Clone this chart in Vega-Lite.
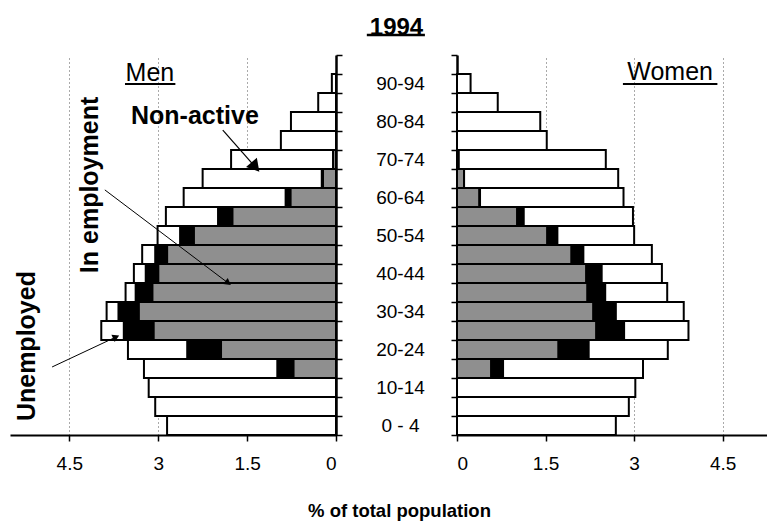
{
  "$schema": "https://vega.github.io/schema/vega-lite/v6.json",
  "background": "white",
  "padding": {"left": 10, "top": 15, "right": 0, "bottom": 2},
  "title": {"text": "1994", "font": "Liberation Sans", "fontSize": 24, "fontWeight": "bold", "color": "black", "anchor": "middle", "dx": 8, "offset": -6},
  "config": {"view": {"stroke": null}, "font": "Liberation Sans"},
  "spacing": 121,
  "bounds": "flush",
  "datasets": {
    "pop": [
      {"sex": "Men", "age": "90-94", "status": "Non-active", "value": 0.07, "ord": 3},
      {"sex": "Men", "age": "85-89", "status": "Non-active", "value": 0.30, "ord": 3},
      {"sex": "Men", "age": "80-84", "status": "Non-active", "value": 0.76, "ord": 3},
      {"sex": "Men", "age": "75-79", "status": "Non-active", "value": 0.93, "ord": 3},
      {"sex": "Men", "age": "70-74", "status": "In employment", "value": 0.05, "ord": 1},
      {"sex": "Men", "age": "70-74", "status": "Non-active", "value": 1.72, "ord": 3},
      {"sex": "Men", "age": "65-69", "status": "In employment", "value": 0.22, "ord": 1},
      {"sex": "Men", "age": "65-69", "status": "Unemployed", "value": 0.02, "ord": 2},
      {"sex": "Men", "age": "65-69", "status": "Non-active", "value": 2.01, "ord": 3},
      {"sex": "Men", "age": "60-64", "status": "In employment", "value": 0.77, "ord": 1},
      {"sex": "Men", "age": "60-64", "status": "Unemployed", "value": 0.08, "ord": 2},
      {"sex": "Men", "age": "60-64", "status": "Non-active", "value": 1.72, "ord": 3},
      {"sex": "Men", "age": "55-59", "status": "In employment", "value": 1.75, "ord": 1},
      {"sex": "Men", "age": "55-59", "status": "Unemployed", "value": 0.24, "ord": 2},
      {"sex": "Men", "age": "55-59", "status": "Non-active", "value": 0.88, "ord": 3},
      {"sex": "Men", "age": "50-54", "status": "In employment", "value": 2.40, "ord": 1},
      {"sex": "Men", "age": "50-54", "status": "Unemployed", "value": 0.23, "ord": 2},
      {"sex": "Men", "age": "50-54", "status": "Non-active", "value": 0.38, "ord": 3},
      {"sex": "Men", "age": "45-49", "status": "In employment", "value": 2.85, "ord": 1},
      {"sex": "Men", "age": "45-49", "status": "Unemployed", "value": 0.20, "ord": 2},
      {"sex": "Men", "age": "45-49", "status": "Non-active", "value": 0.22, "ord": 3},
      {"sex": "Men", "age": "40-44", "status": "In employment", "value": 3.00, "ord": 1},
      {"sex": "Men", "age": "40-44", "status": "Unemployed", "value": 0.21, "ord": 2},
      {"sex": "Men", "age": "40-44", "status": "Non-active", "value": 0.20, "ord": 3},
      {"sex": "Men", "age": "35-39", "status": "In employment", "value": 3.10, "ord": 1},
      {"sex": "Men", "age": "35-39", "status": "Unemployed", "value": 0.28, "ord": 2},
      {"sex": "Men", "age": "35-39", "status": "Non-active", "value": 0.17, "ord": 3},
      {"sex": "Men", "age": "30-34", "status": "In employment", "value": 3.33, "ord": 1},
      {"sex": "Men", "age": "30-34", "status": "Unemployed", "value": 0.34, "ord": 2},
      {"sex": "Men", "age": "30-34", "status": "Non-active", "value": 0.20, "ord": 3},
      {"sex": "Men", "age": "25-29", "status": "In employment", "value": 3.08, "ord": 1},
      {"sex": "Men", "age": "25-29", "status": "Unemployed", "value": 0.50, "ord": 2},
      {"sex": "Men", "age": "25-29", "status": "Non-active", "value": 0.38, "ord": 3},
      {"sex": "Men", "age": "20-24", "status": "In employment", "value": 1.94, "ord": 1},
      {"sex": "Men", "age": "20-24", "status": "Unemployed", "value": 0.57, "ord": 2},
      {"sex": "Men", "age": "20-24", "status": "Non-active", "value": 1.00, "ord": 3},
      {"sex": "Men", "age": "15-19", "status": "In employment", "value": 0.72, "ord": 1},
      {"sex": "Men", "age": "15-19", "status": "Unemployed", "value": 0.27, "ord": 2},
      {"sex": "Men", "age": "15-19", "status": "Non-active", "value": 2.25, "ord": 3},
      {"sex": "Men", "age": "10-14", "status": "Non-active", "value": 3.16, "ord": 3},
      {"sex": "Men", "age": "5-9", "status": "Non-active", "value": 3.05, "ord": 3},
      {"sex": "Men", "age": "0 - 4", "status": "Non-active", "value": 2.85, "ord": 3},
      {"sex": "Women", "age": "90-94", "status": "Non-active", "value": 0.23, "ord": 3},
      {"sex": "Women", "age": "85-89", "status": "Non-active", "value": 0.69, "ord": 3},
      {"sex": "Women", "age": "80-84", "status": "Non-active", "value": 1.41, "ord": 3},
      {"sex": "Women", "age": "75-79", "status": "Non-active", "value": 1.52, "ord": 3},
      {"sex": "Women", "age": "70-74", "status": "In employment", "value": 0.03, "ord": 1},
      {"sex": "Women", "age": "70-74", "status": "Non-active", "value": 2.49, "ord": 3},
      {"sex": "Women", "age": "65-69", "status": "In employment", "value": 0.12, "ord": 1},
      {"sex": "Women", "age": "65-69", "status": "Non-active", "value": 2.61, "ord": 3},
      {"sex": "Women", "age": "60-64", "status": "In employment", "value": 0.38, "ord": 1},
      {"sex": "Women", "age": "60-64", "status": "Unemployed", "value": 0.01, "ord": 2},
      {"sex": "Women", "age": "60-64", "status": "Non-active", "value": 2.43, "ord": 3},
      {"sex": "Women", "age": "55-59", "status": "In employment", "value": 1.02, "ord": 1},
      {"sex": "Women", "age": "55-59", "status": "Unemployed", "value": 0.11, "ord": 2},
      {"sex": "Women", "age": "55-59", "status": "Non-active", "value": 1.85, "ord": 3},
      {"sex": "Women", "age": "50-54", "status": "In employment", "value": 1.53, "ord": 1},
      {"sex": "Women", "age": "50-54", "status": "Unemployed", "value": 0.17, "ord": 2},
      {"sex": "Women", "age": "50-54", "status": "Non-active", "value": 1.30, "ord": 3},
      {"sex": "Women", "age": "45-49", "status": "In employment", "value": 1.94, "ord": 1},
      {"sex": "Women", "age": "45-49", "status": "Unemployed", "value": 0.20, "ord": 2},
      {"sex": "Women", "age": "45-49", "status": "Non-active", "value": 1.16, "ord": 3},
      {"sex": "Women", "age": "40-44", "status": "In employment", "value": 2.19, "ord": 1},
      {"sex": "Women", "age": "40-44", "status": "Unemployed", "value": 0.26, "ord": 2},
      {"sex": "Women", "age": "40-44", "status": "Non-active", "value": 1.02, "ord": 3},
      {"sex": "Women", "age": "35-39", "status": "In employment", "value": 2.21, "ord": 1},
      {"sex": "Women", "age": "35-39", "status": "Unemployed", "value": 0.30, "ord": 2},
      {"sex": "Women", "age": "35-39", "status": "Non-active", "value": 1.05, "ord": 3},
      {"sex": "Women", "age": "30-34", "status": "In employment", "value": 2.31, "ord": 1},
      {"sex": "Women", "age": "30-34", "status": "Unemployed", "value": 0.38, "ord": 2},
      {"sex": "Women", "age": "30-34", "status": "Non-active", "value": 1.15, "ord": 3},
      {"sex": "Women", "age": "25-29", "status": "In employment", "value": 2.36, "ord": 1},
      {"sex": "Women", "age": "25-29", "status": "Unemployed", "value": 0.47, "ord": 2},
      {"sex": "Women", "age": "25-29", "status": "Non-active", "value": 1.09, "ord": 3},
      {"sex": "Women", "age": "20-24", "status": "In employment", "value": 1.72, "ord": 1},
      {"sex": "Women", "age": "20-24", "status": "Unemployed", "value": 0.51, "ord": 2},
      {"sex": "Women", "age": "20-24", "status": "Non-active", "value": 1.34, "ord": 3},
      {"sex": "Women", "age": "15-19", "status": "In employment", "value": 0.58, "ord": 1},
      {"sex": "Women", "age": "15-19", "status": "Unemployed", "value": 0.20, "ord": 2},
      {"sex": "Women", "age": "15-19", "status": "Non-active", "value": 2.37, "ord": 3},
      {"sex": "Women", "age": "10-14", "status": "Non-active", "value": 3.02, "ord": 3},
      {"sex": "Women", "age": "5-9", "status": "Non-active", "value": 2.91, "ord": 3},
      {"sex": "Women", "age": "0 - 4", "status": "Non-active", "value": 2.69, "ord": 3}
    ],
    "boldL": [
      {"t": "Non-active", "x": 2.38, "y": 16.8, "a": 0},
      {"t": "In employment", "x": 4.15, "y": 13.16, "a": 270},
      {"t": "Unemployed", "x": 5.21, "y": 4.68, "a": 270}
    ],
    "plainL": [{"t": "Men", "x": 3.14, "y": 19.05}],
    "plainR": [{"t": "Women", "x": 3.61, "y": 19.1}],
    "rulesL": [
      {"x1": 1.91, "y1": 16.05, "x2": 1.36, "y2": 14.1, "sw": 1.2},
      {"x1": 3.9, "y1": 12.9, "x2": 1.82, "y2": 8.0, "sw": 1},
      {"x1": 4.79, "y1": 3.58, "x2": 3.71, "y2": 5.16, "sw": 1},
      {"x1": 3.56, "y1": 18.47, "x2": 2.71, "y2": 18.47, "sw": 2},
      {"x1": -0.52, "y1": 21.05, "x2": -1.5, "y2": 21.05, "sw": 2.5}
    ],
    "rulesR": [
      {"x1": 2.81, "y1": 18.47, "x2": 4.41, "y2": 18.47, "sw": 2}
    ],
    "heads": [
      {"x": 1.36, "y": 14.1, "a": 140, "s": 200},
      {"x": 1.82, "y": 8.0, "a": 127, "s": 60},
      {"x": 3.71, "y": 5.16, "a": 65, "s": 60}
    ]
  },
  "hconcat": [
    {
      "width": 326,
      "height": 380,
      "resolve": {"scale": {"y": "independent"}},
      "layer": [
        {
          "data": {"name": "pop"},
          "transform": [{"filter": "datum.sex === 'Men'"}],
          "mark": {"type": "bar", "stroke": "black", "strokeWidth": 2},
          "encoding": {
            "y": {"field": "age", "type": "nominal",
              "scale": {"domain": ["95+","90-94","85-89","80-84","75-79","70-74","65-69","60-64","55-59","50-54","45-49","40-44","35-39","30-34","25-29","20-24","15-19","10-14","5-9","0 - 4"], "paddingInner": 0, "paddingOuter": 0},
              "axis": {"orient": "right", "title": null, "labels": false, "tickSize": 6, "tickBand": "extent", "tickColor": "black", "tickWidth": 1.5, "domainColor": "black", "domainWidth": 2.5, "grid": false}},
            "x": {"field": "value", "type": "quantitative", "stack": "zero",
              "scale": {"domain": [0, 5.5], "reverse": true, "nice": false},
              "axis": {"values": [0, 1.5, 3, 4.5], "format": "~g", "grid": true, "gridDash": [1, 3], "gridColor": "#555", "gridWidth": 1, "tickSize": 6, "tickColor": "black", "tickWidth": 1.5, "domainColor": "black", "domainWidth": 2, "labelFontSize": 19, "labelColor": "black", "labelPadding": 13, "labelFont": "Liberation Sans",
                "title": "% of total population", "titleFont": "Liberation Sans", "titleFontSize": 18.5, "titleFontWeight": "bold", "titleColor": "black", "titleX": 389, "titleY": 81, "titleAlign": "center", "titleBaseline": "alphabetic"}},
            "fill": {"field": "status", "type": "nominal", "scale": {"domain": ["In employment", "Unemployed", "Non-active"], "range": ["#8f8f8f", "#000000", "#ffffff"]}, "legend": null},
            "order": {"field": "ord", "type": "quantitative"}
          }
        },
        {
          "data": {"name": "rulesL"},
          "mark": {"type": "rule", "color": "black"},
          "encoding": {
            "x": {"field": "x1", "type": "quantitative"},
            "x2": {"field": "x2"},
            "y": {"field": "y1", "type": "quantitative", "scale": {"domain": [0, 20], "nice": false, "zero": false}, "axis": null},
            "y2": {"field": "y2"},
            "strokeWidth": {"field": "sw", "type": "quantitative", "scale": null}
          }
        },
        {
          "data": {"name": "heads"},
          "mark": {"type": "point", "shape": "triangle-up", "filled": true, "color": "black", "opacity": 1},
          "encoding": {
            "x": {"field": "x", "type": "quantitative"},
            "y": {"field": "y", "type": "quantitative", "scale": {"domain": [0, 20], "nice": false, "zero": false}, "axis": null},
            "angle": {"field": "a", "type": "quantitative", "scale": null},
            "size": {"field": "s", "type": "quantitative", "scale": null}
          }
        },
        {
          "data": {"name": "boldL"},
          "mark": {"type": "text", "font": "Liberation Sans", "fontSize": 25, "fontWeight": "bold", "color": "black", "align": "center", "baseline": "middle"},
          "encoding": {
            "text": {"field": "t"},
            "x": {"field": "x", "type": "quantitative"},
            "y": {"field": "y", "type": "quantitative", "scale": {"domain": [0, 20], "nice": false, "zero": false}, "axis": null},
            "angle": {"field": "a", "type": "quantitative", "scale": null}
          }
        },
        {
          "data": {"name": "plainL"},
          "mark": {"type": "text", "font": "Liberation Sans", "fontSize": 25, "color": "black", "align": "center", "baseline": "middle"},
          "encoding": {
            "text": {"field": "t"},
            "x": {"field": "x", "type": "quantitative"},
            "y": {"field": "y", "type": "quantitative", "scale": {"domain": [0, 20], "nice": false, "zero": false}, "axis": null}
          }
        }
      ]
    },
    {
      "width": 310,
      "height": 380,
      "resolve": {"scale": {"y": "independent"}},
      "layer": [
        {
          "data": {"name": "pop"},
          "transform": [{"filter": "datum.sex === 'Women'"}],
          "mark": {"type": "bar", "stroke": "black", "strokeWidth": 2},
          "encoding": {
            "y": {"field": "age", "type": "nominal",
              "scale": {"domain": ["95+","90-94","85-89","80-84","75-79","70-74","65-69","60-64","55-59","50-54","45-49","40-44","35-39","30-34","25-29","20-24","15-19","10-14","5-9","0 - 4"], "paddingInner": 0, "paddingOuter": 0},
              "axis": {"orient": "left", "title": null, "tickSize": 6, "tickBand": "extent", "tickColor": "black", "tickWidth": 1.5, "domainColor": "black", "domainWidth": 2.5, "grid": false,
                "labelFont": "Liberation Sans", "labelFontSize": 19, "labelColor": "black", "labelAlign": "center", "labelBaseline": "middle", "labelPadding": 51,
                "labelExpr": "indexof(['0 - 4','10-14','20-24','30-34','40-44','50-54','60-64','70-74','80-84','90-94'], datum.value) >= 0 ? datum.value : ''"}},
            "x": {"field": "value", "type": "quantitative", "stack": "zero",
              "scale": {"domain": [0, 5.25], "nice": false},
              "axis": {"values": [0, 1.5, 3, 4.5], "format": "~g", "grid": true, "gridDash": [1, 3], "gridColor": "#555", "gridWidth": 1, "tickSize": 6, "tickColor": "black", "tickWidth": 1.5, "domainColor": "black", "domainWidth": 2, "labelFontSize": 19, "labelColor": "black", "labelPadding": 13, "labelFont": "Liberation Sans", "title": null}},
            "fill": {"field": "status", "type": "nominal", "scale": {"domain": ["In employment", "Unemployed", "Non-active"], "range": ["#8f8f8f", "#000000", "#ffffff"]}, "legend": null},
            "order": {"field": "ord", "type": "quantitative"}
          }
        },
        {
          "data": {"name": "rulesR"},
          "mark": {"type": "rule", "color": "black"},
          "encoding": {
            "x": {"field": "x1", "type": "quantitative"},
            "x2": {"field": "x2"},
            "y": {"field": "y1", "type": "quantitative", "scale": {"domain": [0, 20], "nice": false, "zero": false}, "axis": null},
            "y2": {"field": "y2"},
            "strokeWidth": {"field": "sw", "type": "quantitative", "scale": null}
          }
        },
        {
          "data": {"name": "plainR"},
          "mark": {"type": "text", "font": "Liberation Sans", "fontSize": 25, "color": "black", "align": "center", "baseline": "middle"},
          "encoding": {
            "text": {"field": "t"},
            "x": {"field": "x", "type": "quantitative"},
            "y": {"field": "y", "type": "quantitative", "scale": {"domain": [0, 20], "nice": false, "zero": false}, "axis": null}
          }
        }
      ]
    }
  ]
}
